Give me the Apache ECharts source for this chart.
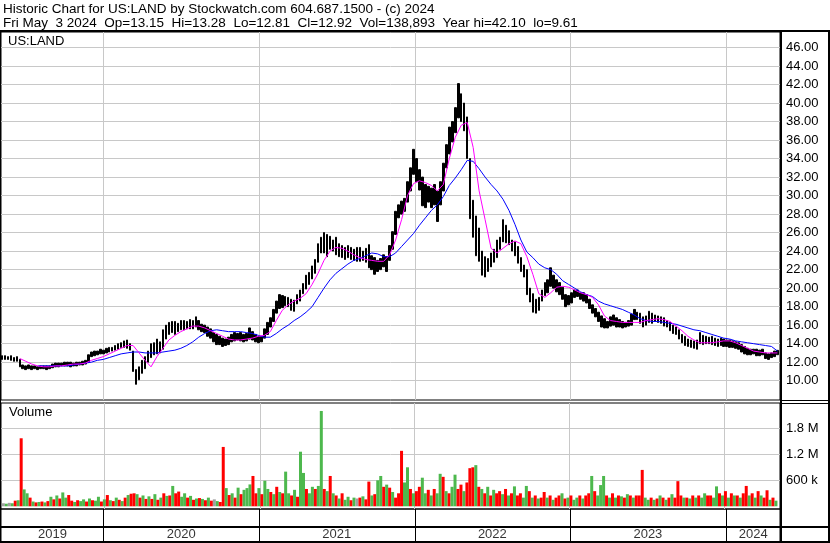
<!DOCTYPE html>
<html><head><meta charset="utf-8">
<script src="https://cdn.jsdelivr.net/npm/echarts@6/dist/echarts.min.js"></script>
<style>html,body{margin:0;padding:0;background:#fff}#c{width:830px;height:543px}</style>
</head><body><div id="c"></div>
<script>
// ---- data (weekly, first week = week of 2019-05-06) ----
const firstWeek = [2019, 4, 8];
const hi = [
12.7,12.7,12.6,12.7,12.5,12.6,12.3,11.7,11.6,11.7,
11.6,11.6,11.5,11.6,11.6,11.6,11.6,11.8,11.9,11.9,
11.9,12.0,12.0,12.0,11.9,12.0,12.0,12.1,12.2,12.8,
13.1,13.2,13.2,13.4,13.3,13.5,13.6,13.6,13.8,14.0,
14.1,14.3,14.4,14.0,13.2,11.2,11.5,12.2,12.6,13.2,
14.0,14.1,14.5,14.2,15.5,16.0,16.3,16.4,16.4,16.2,
16.5,16.5,16.4,16.6,16.5,16.9,16.5,16.1,16.0,15.8,
15.6,15.2,15.0,14.8,14.6,14.5,14.7,15.0,15.2,15.1,
15.2,15.0,15.1,15.7,15.3,15.0,14.8,14.8,15.6,16.3,
16.8,17.7,18.6,19.3,19.2,19.1,19.0,18.8,18.7,19.3,
19.8,20.5,21.4,21.7,22.4,23.1,24.8,25.5,26.0,25.8,
25.6,25.2,25.5,24.8,24.6,24.4,24.6,24.4,24.2,24.4,
24.4,24.0,24.3,24.7,23.5,23.3,23.0,23.2,23.6,23.4,
24.6,26.1,28.3,29.0,29.4,29.7,31.5,33.0,35.0,34.0,
32.8,32.0,31.2,31.0,30.8,31.2,30.5,31.5,33.5,35.5,
37.4,38.0,39.5,42.1,41.0,40.0,38.5,34.0,29.5,27.8,
26.5,24.0,23.4,23.2,23.8,24.2,25.2,25.5,27.4,26.8,
26.2,25.2,25.0,24.5,23.3,22.5,22.0,20.0,19.4,18.8,
19.0,19.8,20.6,20.9,22.2,21.4,20.9,20.6,20.1,19.3,
19.2,19.5,19.8,19.8,19.5,19.5,19.3,18.8,18.2,17.8,
17.4,17.0,16.7,16.4,16.9,17.1,16.8,16.6,16.4,16.3,
16.5,17.2,17.7,17.4,17.3,16.9,17.0,17.5,17.3,17.1,
17.0,16.9,16.8,16.5,16.3,16.0,15.8,15.5,15.0,14.8,
14.5,14.4,14.3,14.4,15.2,14.9,14.8,14.7,14.8,14.6,
14.5,14.6,14.5,14.4,14.4,14.3,14.2,14.1,13.9,13.7,
13.5,13.4,13.4,13.4,13.3,13.4,13.0,12.9,13.0,13.2,
13.28];
const lo = [
12.3,12.3,12.3,12.2,12.1,12.1,11.5,11.3,11.2,11.3,
11.2,11.3,11.2,11.3,11.3,11.2,11.3,11.4,11.5,11.5,
11.6,11.6,11.6,11.5,11.6,11.6,11.7,11.7,11.8,12.0,
12.6,12.7,12.8,12.9,12.9,13.0,13.1,13.2,13.3,13.4,
13.6,13.6,13.5,13.3,11.0,9.61,10.1,10.8,11.3,12.0,
12.5,12.8,12.9,13.0,13.4,14.5,15.0,15.2,15.0,15.3,
15.5,15.5,15.6,15.6,15.6,15.8,15.5,15.3,15.2,14.8,
14.6,14.2,13.9,13.9,13.7,13.8,13.9,14.2,14.3,14.4,
14.3,14.2,14.3,14.5,14.4,14.2,14.1,14.2,14.6,15.0,
15.8,16.4,17.3,17.8,17.9,18.1,18.0,17.6,17.5,18.3,
18.6,19.4,19.9,20.4,21.0,21.6,22.8,23.8,23.8,23.4,
24.2,24.0,23.6,23.4,23.3,23.1,23.3,23.1,23.0,22.9,
22.9,23.0,22.8,22.2,22.0,21.5,21.8,22.0,22.3,21.8,
23.0,24.2,25.8,27.6,28.0,28.3,29.3,30.5,32.3,31.5,
30.6,28.9,28.7,29.3,28.7,29.0,27.2,29.0,30.5,33.0,
34.5,35.8,36.8,38.4,38.0,37.0,34.0,27.5,25.5,23.5,
22.9,21.4,21.2,21.8,22.3,22.8,23.3,24.2,25.0,24.9,
24.7,24.0,23.5,22.7,21.8,21.2,19.3,18.5,17.4,17.3,
17.6,18.6,19.2,19.5,20.2,20.0,19.6,19.3,18.8,18.0,
18.2,18.4,19.0,19.1,18.8,18.6,18.4,17.8,17.3,16.9,
16.4,15.8,15.7,15.7,15.9,16.0,15.8,15.8,15.7,15.8,
15.9,16.0,16.6,16.6,16.2,15.8,16.0,16.3,16.2,16.4,
16.3,16.2,15.9,15.8,15.4,15.1,15.0,14.5,14.1,13.8,
13.7,13.6,13.5,13.4,14.0,13.9,14.0,14.0,13.9,13.8,
13.7,13.8,13.7,13.7,13.6,13.6,13.5,13.4,13.1,12.9,
12.8,12.8,12.9,12.7,12.7,12.8,12.4,12.3,12.5,12.6,
12.81];
// volume in thousands of shares
const volK = [
70,60,80,70,130,140,1570,390,300,200,
110,90,100,110,90,120,220,160,250,180,
320,200,260,130,100,140,120,160,110,180,
140,130,220,110,160,260,140,120,200,150,
120,200,260,290,300,280,200,250,170,230,
170,280,150,200,300,240,250,470,300,340,
220,300,200,240,150,180,190,170,140,200,
130,160,120,100,1370,420,260,300,200,430,
280,380,420,505,700,300,420,280,590,400,
330,280,450,330,300,800,300,250,380,220,
1260,770,400,300,450,400,470,2200,400,350,
700,300,250,180,300,150,220,140,200,180,
200,230,160,570,250,280,600,700,450,500,
430,330,200,300,1280,550,900,400,300,350,
450,660,300,380,250,400,300,750,680,350,
300,450,730,400,500,350,550,880,900,950,
450,400,300,450,250,380,300,350,280,400,
250,300,460,250,300,200,470,350,200,250,
180,200,330,200,250,150,200,250,300,180,
200,250,150,200,250,180,250,300,700,350,
250,490,700,250,200,300,200,250,230,200,
280,250,200,250,250,840,200,150,200,150,
180,250,200,150,200,280,200,580,250,200,
200,180,250,200,250,200,300,250,250,200,
460,300,250,350,200,300,250,250,200,300,
470,250,300,200,350,250,200,370,150,200,
130];
// r = down day, g = up day, n = unchanged
const volDir =
'ngngrgrggr'+'grgrgrgrgr'+'ggrrgrggrg'+'rggrgrgrgr'+'grgrrgrgrg'+
'rgrgrgrgrr'+'ggrgrgrgrg'+'rngrrgrgrg'+'rgggrrgrgg'+'rgrgrggrgr'+
'ggrggrggrg'+'rgrgrggrgn'+'rgrrgrggrg'+'rgrrrggrgr'+'rggrgrggrg'+
'rggrrgrrrg'+'rgrgrgrrgr'+'grgrrggrgr'+'grrgrgrrgr'+'grggrgrrgr'+
'gggrgrgrgr'+'grgrrrggrg'+'rgrgrgrrrg'+'rgrgrggrrg'+'grgrgrgrgr'+
'rgrgrgrrgr'+'g';
// moving averages, one value every 2 weeks
const maShort = [
null,null,null,12.4,12.1,11.8,11.6,11.5,11.5,11.6,
11.6,11.7,11.8,11.8,11.9,12.2,12.4,12.6,12.9,13.2,
13.5,13.8,13.8,13.0,12.2,11.5,12.6,13.5,14.4,14.9,
15.3,15.6,15.9,15.9,15.7,15.4,15.1,14.8,14.5,14.4,
14.4,14.5,14.6,14.8,14.9,15.3,16.5,17.6,18.2,18.6,
18.9,19.4,20.4,21.6,23.0,24.0,24.4,24.3,24.0,23.6,
23.3,23.1,23.0,22.9,22.9,23.6,25.2,27.4,30.0,31.3,
31.6,31.4,31.1,30.5,31.2,34.0,36.3,37.6,37.9,35.2,
30.5,27.4,24.3,23.8,24.3,24.8,25.1,24.8,23.4,21.5,
19.4,19.0,19.5,20.1,20.2,20.1,19.8,19.5,19.3,19.0,
18.2,17.0,16.5,16.4,16.3,16.3,16.3,16.3,16.5,16.6,
16.7,16.6,16.4,15.9,15.4,14.8,14.4,14.1,14.1,14.1,
14.2,14.3,14.3,14.1,13.8,13.5,13.2,13.1,13.0,13.0,
13.0];
const maLong = [
null,null,null,null,null,null,11.6,11.6,11.6,11.6,
11.6,11.6,11.7,11.8,11.9,12.0,12.2,12.3,12.5,12.7,
12.9,13.0,13.1,13.1,13.0,13.0,13.0,13.1,13.2,13.3,
13.5,13.8,14.2,14.7,15.1,15.4,15.5,15.4,15.3,15.3,
15.3,15.2,15.1,14.9,14.7,14.7,15.1,15.6,16.0,16.5,
16.9,17.4,18.0,19.0,20.0,20.9,21.6,22.1,22.6,23.0,
23.2,23.5,23.8,23.7,23.4,23.4,23.8,24.5,25.2,25.9,
26.8,27.6,28.4,29.0,29.9,31.1,31.9,32.8,33.8,33.7,
32.9,32.0,31.2,30.5,29.6,28.4,26.9,25.2,23.9,23.3,
22.6,22.2,22.0,21.5,20.8,20.4,20.0,19.6,19.3,19.1,
18.6,18.3,18.1,17.9,17.7,17.4,17.1,16.7,16.5,16.4,
16.4,16.3,16.2,16.1,15.9,15.7,15.5,15.4,15.2,15.0,
14.8,14.6,14.5,14.3,14.2,14.1,14.0,13.9,13.8,13.7,
13.2];
const priceTicks = [10,12,14,16,18,20,22,24,26,28,30,32,34,36,38,40,42,44,46];
const volTicks = [600000,1200000,1800000];
const volTickLabels = ['600 k','1.2 M','1.8 M'];
const yearStarts = ['2020-01-01','2021-01-01','2022-01-01','2023-01-01','2024-01-01'];
const yearLabels = ['2019','2020','2021','2022','2023','2024'];
const yearLabelAt = ['2019-09-04','2020-07-02','2021-07-02','2022-07-02','2023-07-02','2024-03-05'];
const header1 = 'Historic Chart for US:LAND by Stockwatch.com 604.687.1500 - (c) 2024';
const header2 = 'Fri May  3 2024  Op=13.15  Hi=13.28  Lo=12.81  Cl=12.92  Vol=138,893  Year hi=42.10  lo=9.61';

// ---- build ----
const D = s => new Date(s + 'T00:00:00').getTime();
const weekT = hi.map((_, i) => new Date(firstWeek[0], firstWeek[1], firstWeek[2] + 7 * i).getTime());
const xMin = D('2019-05-06'), xMax = D('2024-05-07');
const FONT = '"Liberation Sans", Arial, sans-serif';
const dirColor = {r: '#ff0000', g: '#4db84d', n: '#a0a0a0'};
const yearTicks = yearStarts.map(D);

function xAxisFor(g, gridColor) {
  return {
    type: 'time', gridIndex: g, min: xMin, max: xMax,
    axisLine: {show: false},
    axisTick: {show: false, customValues: yearTicks},
    axisLabel: {show: false},
    splitLine: {show: true, lineStyle: {color: gridColor, width: 1}}
  };
}
const gridBase = {left: 1, right: 50, show: true, borderColor: '#000', borderWidth: 1, containLabel: false};

const chart = echarts.init(document.getElementById('c'), null, {renderer: 'canvas'});
chart.setOption({
  animation: false,
  backgroundColor: '#fff',
  textStyle: {fontFamily: FONT},
  grid: [
    Object.assign({}, gridBase, {top: 32, height: 368}),
    Object.assign({}, gridBase, {top: 403, height: 106}),
    Object.assign({}, gridBase, {top: 509, height: 18}),
    Object.assign({}, gridBase, {top: 527, height: 15})
  ],
  xAxis: [xAxisFor(0, '#c8c8c8'), xAxisFor(1, '#c8c8c8'), xAxisFor(2, '#000'), xAxisFor(3, '#000')],
  yAxis: [
    {type: 'value', gridIndex: 0, position: 'right', min: 7.915, max: 47.675,
     axisLine: {show: false}, axisTick: {show: false, customValues: priceTicks},
     axisLabel: {customValues: priceTicks, formatter: v => v.toFixed(2), margin: 6, color: '#000', fontSize: 13, fontFamily: FONT},
     splitLine: {show: true, lineStyle: {color: '#c8c8c8', width: 1}}},
    {type: 'value', gridIndex: 1, position: 'right', min: -62300, max: 2383850,
     axisLine: {show: false}, axisTick: {show: false, customValues: volTicks},
     axisLabel: {customValues: volTicks, formatter: v => volTickLabels[volTicks.indexOf(v)] || '', margin: 6, color: '#000', fontSize: 13, fontFamily: FONT},
     splitLine: {show: true, lineStyle: {color: '#c8c8c8', width: 1}}},
    {type: 'value', gridIndex: 2, min: 0, max: 1, show: false},
    {type: 'value', gridIndex: 3, min: 0, max: 1, show: false}
  ],
  series: [
    {type: 'candlestick', xAxisIndex: 0, yAxisIndex: 0, barWidth: 2,
     dimensions: ['t', 'open', 'close', 'low', 'high'],
     encode: {x: 't', y: ['open', 'close', 'low', 'high']},
     data: weekT.map((t, i) => [t, lo[i], hi[i], lo[i], hi[i]]),
     itemStyle: {color: '#000', color0: '#000', borderColor: '#000', borderColor0: '#000', borderWidth: 1},
     z: 2},
    {type: 'line', xAxisIndex: 0, yAxisIndex: 0, showSymbol: false, symbol: 'none',
     data: maLong.map((v, k) => [weekT[2 * k], v]).filter(p => p[1] !== null),
     lineStyle: {color: '#0000ff', width: 1}, z: 3},
    {type: 'line', xAxisIndex: 0, yAxisIndex: 0, showSymbol: false, symbol: 'none',
     data: maShort.map((v, k) => [weekT[2 * k], v]).filter(p => p[1] !== null),
     lineStyle: {color: '#ff00ff', width: 1}, z: 4},
    {type: 'bar', xAxisIndex: 1, yAxisIndex: 1, barWidth: 3,
     data: volK.map((v, i) => ({value: [weekT[i], v * 1000], itemStyle: {color: dirColor[volDir[i]]}}))},
    {type: 'scatter', xAxisIndex: 3, yAxisIndex: 3, symbolSize: 0,
     data: yearLabelAt.map((s, i) => ({value: [D(s), 0.5], name: yearLabels[i]})),
     label: {show: true, position: 'inside', formatter: p => p.name, color: '#000', fontSize: 13, fontFamily: FONT}}
  ],
  graphic: [
    {type: 'text', left: 3, top: 2, style: {text: header1, font: '13.5px ' + FONT, fill: '#000'}},
    {type: 'text', left: 3, top: 16, style: {text: header2, font: '13.5px ' + FONT, fill: '#000'}},
    {type: 'text', left: 8, top: 35, style: {text: 'US:LAND', font: '13px ' + FONT, fill: '#000'}},
    {type: 'text', left: 9, top: 406, style: {text: 'Volume', font: '13px ' + FONT, fill: '#000'}},
    {type: 'line', shape: {x1: 0, y1: 31, x2: 830, y2: 31}, style: {stroke: '#000', lineWidth: 2}},
    {type: 'line', shape: {x1: 780, y1: 400.5, x2: 830, y2: 400.5}, style: {stroke: '#000', lineWidth: 1}},
    {type: 'line', shape: {x1: 780, y1: 403.5, x2: 830, y2: 403.5}, style: {stroke: '#000', lineWidth: 1}},
    {type: 'line', shape: {x1: 780, y1: 527, x2: 830, y2: 527}, style: {stroke: '#000', lineWidth: 2}},
    {type: 'line', shape: {x1: 0, y1: 542, x2: 830, y2: 542}, style: {stroke: '#000', lineWidth: 2}},
    {type: 'line', shape: {x1: 0, y1: 527, x2: 780, y2: 527}, style: {stroke: '#000', lineWidth: 2}},
    {type: 'line', shape: {x1: 781, y1: 31, x2: 781, y2: 543}, style: {stroke: '#000', lineWidth: 2}},
    {type: 'line', shape: {x1: 829, y1: 31, x2: 829, y2: 543}, style: {stroke: '#000', lineWidth: 2}},
    {type: 'line', shape: {x1: 0.5, y1: 31, x2: 0.5, y2: 543}, style: {stroke: '#000', lineWidth: 1}}
  ]
});
</script>
</body></html>
